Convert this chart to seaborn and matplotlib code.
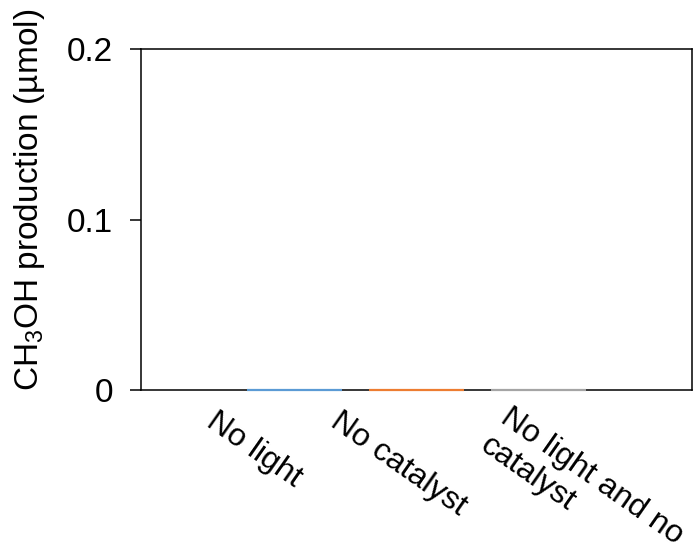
import matplotlib
matplotlib.use("Agg")
import matplotlib.pyplot as plt
import seaborn as sns
import pandas as pd

# Control experiments: methanol yield for each condition
categories = ["No light", "No catalyst", "No light and no\ncatalyst"]
production = [0.0, 0.0, 0.0]
bar_colors = ["#5B9BD5", "#ED7D31", "#A5A5A5"]
y_ticks = [0, 0.1, 0.2]
y_tick_labels = ["0", "0.1", "0.2"]
# label anchor offsets (pixels) relative to each category position on the baseline
label_offsets = [(-76, -16), (-74, -16), (-27, -12)]

sns.set_style("white")
plt.rcParams["font.family"] = ["Liberation Sans", "DejaVu Sans"]
plt.rcParams["mathtext.default"] = "regular"
for key in ("text.color", "axes.labelcolor", "xtick.color", "ytick.color"):
    plt.rcParams[key] = "black"

df = pd.DataFrame({"condition": categories, "production": production})

fig = plt.figure(figsize=(6.97, 5.49), dpi=100)
ax = fig.add_axes([141 / 697, 1 - 390 / 549, 551 / 697, 341 / 549])

sns.barplot(data=df, x="condition", y="production", hue="condition",
            palette=bar_colors, legend=False, width=0.776, ax=ax,
            linewidth=1.6, saturation=1)
for patch, col in zip(ax.patches, bar_colors):
    patch.set_edgecolor(col)
    patch.set_zorder(4)
    patch.set_clip_on(False)

ax.set_xlim(-1.25, len(categories) - 1 + 1.25)
ax.set_ylim(0, 0.2)
ax.set_yticks(y_ticks)
ax.set_yticklabels(y_tick_labels, fontsize=24)
ax.tick_params(axis="y", direction="out", length=8, width=1.1, pad=12,
               colors="black", left=True)
ax.tick_params(axis="x", length=0)
ax.set_xticks(range(len(categories)))
ax.set_xticklabels([])
ax.set_xlabel("")

for spine in ax.spines.values():
    spine.set_visible(True)
    spine.set_color("black")
    spine.set_linewidth(1.1)

ax.set_ylabel("CH$_3$OH production (µmol)", fontsize=24, color="black")
ax.yaxis.set_label_coords((47.5 - 141) / 551, (390 - 200) / 341)

for i, (label, (dx, dy)) in enumerate(zip(categories, label_offsets)):
    ax.annotate(label, xy=(i, 0), xycoords="data",
                xytext=(dx, dy), textcoords="offset pixels",
                rotation=-35, rotation_mode="anchor",
                ha="left", va="top", fontsize=23, linespacing=1.2,
                color="black", annotation_clip=False)

fig.savefig("out.png", dpi=100)
